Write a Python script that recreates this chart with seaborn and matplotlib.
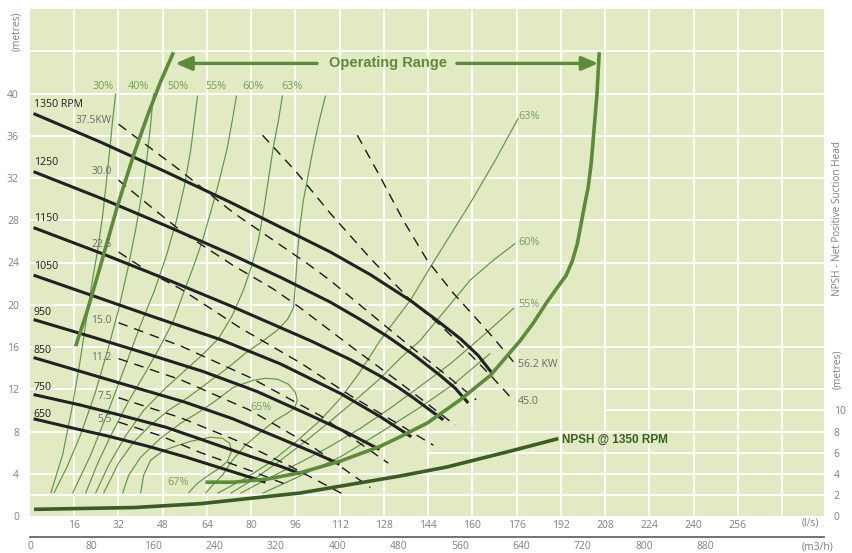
import numpy as np
import matplotlib
matplotlib.use("Agg")
import matplotlib.pyplot as plt
import seaborn as sns

# ---------------- data (flow l/s, head m) ----------------
flow_ticks = list(range(16, 257, 16))
head_ticks = list(range(0, 41, 4))
npsh_ticks = list(range(0, 11, 2))
m3h_ticks = list(range(0, 921, 40))

rpm_labels = ["1350 RPM", "1250", "1150", "1050", "950", "850", "750", "650"]
rpm_label_y = [39.0, 33.5, 28.2, 23.6, 19.3, 15.7, 12.2, 9.6]

h1350_q = [1.3, 25.5, 49.0, 72.5, 108.6, 123.1, 137.6, 147.3, 155.6, 162.1, 167.2]
h1350_h = [38.1, 35.4, 32.6, 29.7, 25.0, 22.85, 20.4, 18.5, 16.8, 15.2, 13.5]
h1250_q = [1.3, 25.5, 49.0, 72.5, 90.6, 108.6, 119.5, 129.3, 138.6, 148.4, 153.8, 158.5]
h1250_h = [32.6, 30.1, 27.5, 24.8, 22.6, 20.25, 18.6, 17.0, 15.3, 13.3, 12.1, 10.7]
h1150_q = [1.3, 25.5, 49.0, 72.5, 101.4, 115.9, 126.7, 133.9, 138.6, 144.8, 149.5]
h1150_h = [27.3, 24.9, 22.45, 19.9, 16.6, 14.8, 13.25, 12.05, 11.2, 10.0, 9.1]
h1050_q = [1.3, 25.5, 44.7, 68.9, 90.6, 112.3, 126.7, 132.0, 137.9]
h1050_h = [22.8, 20.6, 18.85, 16.7, 14.4, 11.6, 9.4, 8.5, 7.5]
h950_q = [1.3, 23.1, 40.5, 62.4, 82.0, 101.6, 114.7, 126.4]
h950_h = [18.6, 16.9, 15.5, 13.7, 11.8, 9.5, 7.9, 6.3]
h850_q = [1.3, 20.7, 36.2, 55.8, 73.4, 90.9, 102.7, 112.0]
h850_h = [15.0, 13.5, 12.3, 10.8, 9.2, 7.3, 6.0, 4.9]
h750_q = [1.3, 18.3, 31.9, 49.2, 64.7, 80.2, 90.6, 97.8]
h750_h = [11.5, 10.5, 9.6, 8.4, 7.0, 5.6, 4.7, 4.0]
h650_q = [1.3, 15.9, 27.7, 42.7, 56.1, 69.5, 78.0, 85.2]
h650_h = [9.2, 8.3, 7.6, 6.6, 5.6, 4.5, 3.8, 3.2]

# power lines (kW)
p375_q = [32.0, 53.4, 73.6, 100.3, 108.6, 135.0, 148.4, 161.4]
p375_h = [37.1, 32.9, 28.7, 23.9, 22.3, 16.6, 13.8, 11.0]
p300_q = [32.0, 43.6, 55.5, 73.6, 88.0, 97.8, 115.9, 133.9, 153.8]
p300_h = [31.8, 29.3, 26.8, 23.7, 21.5, 19.7, 16.1, 12.6, 8.6]
p225_q = [32.0, 43.6, 54.5, 76.1, 97.8, 115.9, 133.9, 145.9]
p225_h = [25.0, 23.0, 21.5, 17.8, 14.5, 11.4, 8.6, 6.7]
p150_q = [32.0, 54.5, 79.7, 105.0, 129.6]
p150_h = [18.3, 16.1, 13.1, 9.5, 5.0]
p112_q = [32.0, 54.5, 79.7, 101.4, 123.1]
p112_h = [14.9, 12.9, 10.0, 6.7, 2.7]
p75_q = [32.0, 54.5, 76.1, 94.2, 113.0]
p75_h = [11.2, 9.3, 7.0, 4.7, 2.1]
p55_q = [32.0, 47.2, 61.7, 79.7, 93.5]
p55_h = [8.9, 7.6, 6.0, 4.3, 2.9]
p450_q = [84.1, 96.4, 108.6, 123.1, 137.6, 148.4, 156.7, 167.2, 174.8]
p450_h = [36.05, 32.55, 28.66, 24.4, 20.43, 18.06, 15.98, 13.14, 10.96]
p562_q = [118.4, 126.7, 135.0, 143.7, 153.1, 161.4, 167.5, 175.5]
p562_h = [36.05, 32.1, 28.0, 24.2, 21.1, 18.7, 16.9, 14.4]

power_left_labels = ["37.5KW", "30.0", "22.5", "15.0", "11.2", "7.5", "5.5"]
power_left_y = [37.4, 32.6, 25.7, 18.5, 15.0, 11.3, 9.1]
power_right_labels = ["56.2 KW", "45.0"]
power_right_y = [14.3, 10.8]

# efficiency curves
e30_q = [31.0, 29.9, 28.8, 27.7, 26.3, 24.5, 22.3, 20.1, 17.9, 15.1, 11.8, 7.5]
e30_h = [40.0, 37.5, 34.6, 31.8, 28.5, 25.2, 21.9, 18.1, 14.3, 10.1, 5.8, 2.15]
e40_q = [44.7, 43.6, 42.2, 40.4, 38.2, 35.3, 32.0, 28.1, 23.4, 18.3, 13.3, 8.6]
e40_h = [40.0, 37.0, 33.7, 30.4, 27.1, 23.3, 19.5, 15.7, 11.5, 7.7, 4.6, 2.15]
e50_q = [60.6, 59.5, 58.1, 55.9, 53.0, 49.4, 45.1, 40.0, 34.6, 28.4, 21.9, 15.4]
e50_h = [39.8, 37.5, 34.6, 31.3, 28.0, 24.7, 21.4, 18.1, 14.3, 10.0, 5.75, 2.15]
e55_q = [74.7, 73.2, 71.4, 68.5, 65.3, 62.4, 59.1, 55.5, 51.9, 47.2, 41.8, 35.3, 29.2, 24.5, 20.1]
e55_h = [39.8, 37.5, 34.9, 31.8, 28.7, 26.1, 23.6, 21.1, 18.5, 16.1, 13.6, 10.7, 7.6, 5.0, 2.15]
e60_q = [91.3, 89.9, 88.0, 86.2, 84.4, 82.6, 80.1, 77.2, 73.2, 68.2, 61.7, 57.0, 49.0, 41.1,
         34.6, 28.4, 23.7]
e60_h = [39.8, 37.5, 34.9, 31.8, 28.7, 26.1, 23.6, 21.4, 19.0, 16.8, 15.1, 14.0, 12.1, 10.0,
         7.6, 4.8, 2.15]
e63_q = [106.9, 104.7, 102.5, 100.3, 98.9, 97.5, 96.7, 96.0, 95.3, 93.1, 89.5, 84.4, 77.9, 71.4,
         64.2, 57.0, 50.1, 43.6, 37.5, 32.0, 26.6]
e63_h = [39.8, 37.5, 34.9, 31.8, 29.9, 27.1, 24.7, 21.9, 19.7, 18.6, 17.6, 16.6, 15.4, 14.0,
         12.6, 11.2, 10.0, 8.6, 7.0, 5.0, 2.15]
e65_q = [33.5, 35.7, 40.0, 47.2, 54.5, 61.0, 66.4, 73.6, 80.8, 85.2, 89.5, 93.5, 96.0, 96.7,
         95.6, 93.1, 88.8, 83.4, 77.9, 73.2, 69.6, 66.0, 63.5]
e65_h = [2.15, 3.86, 5.56, 7.36, 8.78, 9.82, 10.77, 12.19, 12.85, 13.04, 12.95, 12.47, 11.71,
         10.96, 10.2, 9.73, 9.06, 7.93, 6.7, 5.27, 3.86, 2.91, 2.15]
e67_q = [40.0, 41.1, 43.6, 48.3, 53.7, 58.1, 65.3, 69.6, 72.2, 72.9, 71.4, 68.5, 64.6, 61.0,
         58.8, 57.3]
e67_h = [2.15, 3.86, 5.27, 6.2, 6.7, 7.07, 7.46, 7.36, 6.89, 6.13, 5.18, 4.52, 3.86, 3.19,
         2.62, 2.15]
e63r_q = [67.8, 77.9, 87.0, 96.0, 105.0, 112.3, 118.8, 126.7, 132.1, 137.6, 144.8, 152.0, 159.2,
          168.3, 176.6]
e63r_h = [2.15, 3.57, 5.08, 6.98, 9.06, 11.15, 13.42, 16.64, 18.53, 20.43, 23.55, 26.58, 29.6,
          33.68, 37.66]
e60r_q = [72.5, 81.5, 90.6, 99.6, 108.6, 117.7, 126.7, 133.9, 141.2, 150.2, 159.2, 167.5, 175.5]
e60r_h = [2.15, 3.57, 5.27, 7.07, 8.97, 10.96, 13.04, 14.93, 16.64, 19.48, 22.32, 24.2, 25.8]
e55r_q = [76.1, 87.0, 97.8, 108.6, 119.5, 130.3, 141.2, 152.0, 161.8, 168.7, 175.1]
e55r_h = [2.15, 3.67, 5.08, 6.6, 8.3, 10.2, 12.3, 14.4, 16.6, 18.2, 19.7]
e50r_q = [84.1, 97.8, 112.3, 126.7, 141.2, 153.8, 166.5]
e50r_h = [2.15, 3.8, 5.6, 7.9, 10.3, 12.6, 15.4]

eff_top_labels = ["30%", "40%", "50%", "55%", "60%", "63%"]
eff_top_q = [26.6, 39.3, 53.4, 67.1, 80.8, 94.9]
eff_right_labels = ["63%", "60%", "55%"]
eff_right_h = [37.8, 25.9, 20.0]

# operating range boundaries
left_bound_q = [51.9, 47.2, 42.5, 37.5, 31.7, 25.5, 20.8, 16.5]
left_bound_h = [43.9, 41.1, 37.9, 34.2, 29.4, 23.7, 19.5, 16.07]
right_bound_q = [63.5, 73.6, 85.9, 97.8, 112.3, 126.7, 133.9, 143.7, 155.6, 166.5, 177.3,
                 182.0, 186.7, 191.0, 193.9, 196.1, 197.9, 199.3, 200.8, 201.9, 203.0, 203.7,
                 204.4, 205.1, 205.5, 205.9]
right_bound_h = [3.2, 3.2, 3.5, 4.1, 5.2, 6.6, 7.5, 8.8, 11.0, 13.3, 16.6,
                 18.25, 20.14, 21.73, 22.77, 24.1, 25.7, 27.6, 29.7, 31.1, 33.4, 35.6,
                 37.8, 40.0, 42.0, 43.9]

npsh_q = [1.45, 37.6, 61.7, 97.8, 133.9, 150.8, 174.9, 191.1]
npsh_h = [0.63, 0.8, 1.17, 2.18, 3.79, 4.64, 6.22, 7.33]

# ---------------- style ----------------
sns.set_style("white")
plt.rcParams["font.family"] = ["Open Sans", "DejaVu Sans"]
plt.rcParams["lines.solid_joinstyle"] = "round"
plt.rcParams["lines.solid_capstyle"] = "butt"

BG = "#e2eac4"
GRID = "#ffffff"
HEAD = "#222222"
EFF = "#62944a"
EFF_TXT = "#76a05a"
BOUND = "#5e8a3b"
NPSH_C = "#3b5c24"
PTXT = "#6a6a6a"
TICK = "#808080"

fig = plt.figure(figsize=(8.52, 5.53), dpi=100)
W, H = 852.0, 553.0
x0, x1, y0, y1 = 30, 824, 9, 516
ax = fig.add_axes([x0 / W, 1 - y1 / H, (x1 - x0) / W, (y1 - y0) / H])
ax.set_facecolor(BG)
XMAX = 287.2
ax.set_xlim(0, XMAX)
ax.set_ylim(0, 48.0)
for s in ax.spines.values():
    s.set_visible(False)

# grid
for v in range(16, 273, 16):
    ax.axvline(v, color=GRID, lw=1.3, zorder=0.5)
for h in range(4, 45, 4):
    ax.axhline(h, color=GRID, lw=1.3, zorder=0.5)
ax.hlines(10, 208, XMAX, color=GRID, lw=1.3, zorder=0.5)
ax.hlines(6, 144, XMAX, color=GRID, lw=1.3, zorder=0.5)
ax.hlines(2, 0, XMAX, color=GRID, lw=1.3, zorder=0.5)

def line(q, h, color, lw, ls="-", z=2):
    sns.lineplot(x=q, y=h, sort=False, estimator=None, ax=ax, color=color,
                 lw=lw, linestyle=ls, zorder=z, legend=False)

# efficiency curves
for q, h in [(e30_q, e30_h), (e40_q, e40_h), (e50_q, e50_h), (e55_q, e55_h),
             (e60_q, e60_h), (e63_q, e63_h), (e65_q, e65_h), (e67_q, e67_h),
             (e63r_q, e63r_h), (e60r_q, e60r_h), (e55r_q, e55r_h), (e50r_q, e50r_h)]:
    line(q, h, EFF, 0.85, z=2)

# power lines
for q, h in [(p375_q, p375_h), (p300_q, p300_h), (p225_q, p225_h), (p150_q, p150_h),
             (p112_q, p112_h), (p75_q, p75_h), (p55_q, p55_h), (p450_q, p450_h),
             (p562_q, p562_h)]:
    line(q, h, "#1a1a1a", 1.0, ls=(0, (7, 5)), z=3)

# head curves
for q, h in [(h1350_q, h1350_h), (h1250_q, h1250_h), (h1150_q, h1150_h), (h1050_q, h1050_h),
             (h950_q, h950_h), (h850_q, h850_h), (h750_q, h750_h), (h650_q, h650_h)]:
    line(q, h, HEAD, 2.2, z=4)

# boundaries and NPSH
line(left_bound_q, left_bound_h, BOUND, 2.6, z=5)
line(right_bound_q, right_bound_h, BOUND, 2.6, z=5)
line(npsh_q, npsh_h, NPSH_C, 2.6, z=5)

# operating range arrows
arrow_kw = dict(arrowstyle="-|>,head_length=0.65,head_width=0.28", color=BOUND,
                lw=2.4, mutation_scale=15, shrinkA=0, shrinkB=0)
ax.annotate("", xy=(52.6, 42.85), xytext=(103.8, 42.85), arrowprops=arrow_kw, zorder=6)
ax.annotate("", xy=(205.5, 42.85), xytext=(154.4, 42.85), arrowprops=arrow_kw, zorder=6)
ax.text(129.5, 42.85, "Operating Range", ha="center", va="center", fontsize=10.5,
        fontweight="bold", color=BOUND, family=["Liberation Sans", "DejaVu Sans"], zorder=6)

# labels
for lab, y in zip(rpm_labels, rpm_label_y):
    ax.text(1.3, y, lab, ha="left", va="center", fontsize=7.6, color="#1e1e1e", zorder=6)
for lab, y in zip(power_left_labels, power_left_y):
    ax.text(29.6, y, lab, ha="right", va="center", fontsize=7.4, color=PTXT, zorder=6)
for lab, y in zip(power_right_labels, power_right_y):
    ax.text(176.6, y, lab, ha="left", va="center", fontsize=7.6, color=PTXT, zorder=6)
for lab, q in zip(eff_top_labels, eff_top_q):
    ax.text(q, 40.7, lab, ha="center", va="center", fontsize=7.8, color=EFF_TXT, zorder=6)
for lab, y in zip(eff_right_labels, eff_right_h):
    ax.text(176.6, y, lab, ha="left", va="center", fontsize=7.8, color=EFF_TXT, zorder=6)
ax.text(83.4, 10.3, "65%", ha="center", va="center", fontsize=7.8, color=EFF_TXT, zorder=6)
ax.text(53.4, 3.2, "67%", ha="center", va="center", fontsize=7.8, color=EFF_TXT, zorder=6)
ax.text(192.5, 7.2, "NPSH @ 1350 RPM", ha="left", va="center", fontsize=8.5,
        fontweight="bold", color=NPSH_C, family=["Liberation Sans", "DejaVu Sans"], zorder=6)

# ticks
ax.set_xticks(flow_ticks)
ax.set_xticklabels([str(v) for v in flow_ticks])
ax.set_yticks(head_ticks)
ax.set_yticklabels([str(v) for v in head_ticks])
ax.tick_params(axis="both", length=0, labelsize=7.5, labelcolor=TICK)
ax.tick_params(axis="x", pad=3)
ax.tick_params(axis="y", pad=8)
ax.set_xlabel("")
ax.set_ylabel("")

axr = ax.twinx()
axr.set_ylim(ax.get_ylim())
axr.set_yticks(npsh_ticks)
axr.set_yticklabels([str(v) for v in npsh_ticks])
axr.tick_params(axis="y", length=0, labelsize=7.5, labelcolor=TICK, pad=7)
for s in axr.spines.values():
    s.set_visible(False)

fig.text(810 / W, 1 - 523 / H, "(l/s)", ha="center", va="center", fontsize=7.5, color=TICK)
fig.text(17 / W, 1 - 31 / H, "(metres)", rotation=90, ha="center", va="center",
         fontsize=7.3, color=TICK)
fig.text(838 / W, 1 - 218 / H, "NPSH - Net Positive Suction Head", rotation=90,
         ha="center", va="center", fontsize=7.2, color=TICK)
fig.text(838 / W, 1 - 369 / H, "(metres)", rotation=90, ha="center", va="center",
         fontsize=7.3, color=TICK)

# secondary flow axis in m3/h
ax2 = fig.add_axes([x0 / W, 1 - 537 / H, (x1 - x0) / W, 0.0001])
ax2.set_xlim(0, XMAX * 3.6)
ax2.set_yticks([])
for k in ["left", "right", "top"]:
    ax2.spines[k].set_visible(False)
ax2.spines["bottom"].set_color("#5a5a5a")
ax2.spines["bottom"].set_linewidth(1.2)
ax2.set_xticks(m3h_ticks)
ax2.set_xticklabels([str(v) if (v % 80 == 0 and v <= 880) else "" for v in m3h_ticks])
ax2.tick_params(axis="x", direction="in", length=5, width=1.2, color="#3d9ad6",
                labelsize=7.5, labelcolor=TICK, pad=3)
ax2.patch.set_visible(False)
fig.text(818 / W, 1 - 547 / H, "(m3/h)", ha="center", va="center", fontsize=7.5, color=TICK)

fig.savefig("out.png", dpi=100)
